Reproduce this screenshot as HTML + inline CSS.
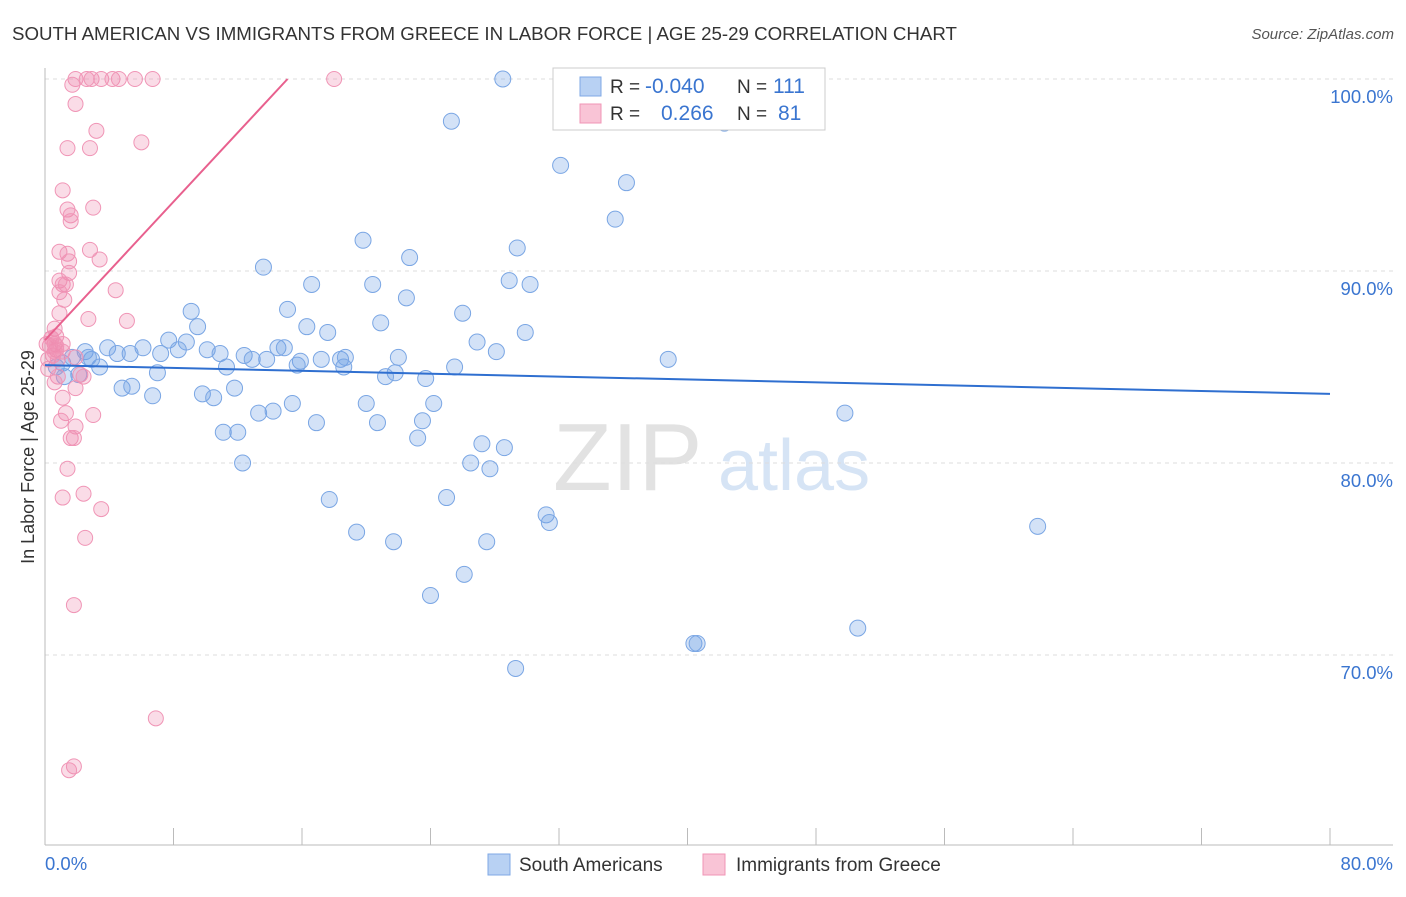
<!DOCTYPE html>
<html><head><meta charset="utf-8"><style>
body{margin:0;background:#fff;font-family:"Liberation Sans",sans-serif;}
svg text{font-family:"Liberation Sans",sans-serif;}
</style></head><body>
<svg id="chart" width="1406" height="892">
<text x="12" y="40" font-size="18.7" fill="#333">SOUTH AMERICAN VS IMMIGRANTS FROM GREECE IN LABOR FORCE | AGE 25-29 CORRELATION CHART</text>
<text x="1394" y="39" font-size="15" fill="#555" font-style="italic" text-anchor="end">Source: ZipAtlas.com</text>
<g>
<text x="553" y="490" font-size="96" fill="#e2e2e2" font-family="Liberation Serif">ZIP</text>
<text x="718" y="490" font-size="72" fill="#d6e4f5">atlas</text>
</g>
<g id="grid"></g><g id="axes"></g><g id="pts"></g><g id="lines"></g>
<text transform="translate(34,457) rotate(-90)" font-size="18" fill="#333" text-anchor="middle">In Labor Force | Age 25-29</text>
<g>
<rect x="553" y="68" width="272" height="62" fill="#fff" stroke="#ccc"/>
<rect x="580" y="77" width="21" height="19" fill="#b8d1f3" stroke="#7fa8e6"/>
<rect x="580" y="104" width="21" height="19" fill="#f9c4d6" stroke="#f095b6"/>
<text x="610" y="93" font-size="19" fill="#333">R = <tspan fill="#3a75d0" x="645" font-size="21">-0.040</tspan><tspan fill="#333" x="737">N = </tspan><tspan fill="#3a75d0" x="773" font-size="21">111</tspan></text>
<text x="610" y="120" font-size="19" fill="#333">R = <tspan fill="#3a75d0" x="661" font-size="21">0.266</tspan><tspan fill="#333" x="737">N = </tspan><tspan fill="#3a75d0" x="778" font-size="21">81</tspan></text>
</g>
<g>
<rect x="488" y="854" width="22" height="21" fill="#b8d1f3" stroke="#7fa8e6"/>
<text x="519" y="871" font-size="19" fill="#333">South Americans</text>
<rect x="703" y="854" width="22" height="21" fill="#f9c4d6" stroke="#f095b6"/>
<text x="736" y="871" font-size="19" fill="#333">Immigrants from Greece</text>
</g>
</svg>
<script>
const xTicks=[0,80];
const yTicks=[70,80,90,100];
const blueX=[28.5,32.6,38.3,41.2,25.3,42.3,32.1,36.2,35.5,19.8,29.4,22.7,13.6,16.6,20.4,28.9,30.2,22.5,15.1,26,9.1,9.5,16.3,17.6,20.9,26.9,29.9,28.1,38.8,7.7,8.8,6.1,3.9,2.5,5.3,7.2,4.5,10.1,10.9,8.3,12.4,14.5,14.9,12.9,13.8,11.3,15.9,17.2,18.4,18.7,18.6,15.7,22,21.8,21.2,23.7,25.5,7,3.4,2.9,2.7,1.7,1.1,0.7,1.2,2.1,4.8,5.4,6.7,9.8,10.5,11.8,15.4,13.3,14.2,16.9,20,20.7,24.2,23.5,23.2,11.1,12,12.3,27.2,28.6,26.5,27.7,17.7,25,49.8,31.2,31.4,19.4,21.7,27.5,61.8,26.1,24,50.6,40.4,40.6,29.3];
const blueY=[100,100,100,100,97.8,97.7,95.5,94.6,92.7,91.6,91.2,90.7,90.2,89.3,89.3,89.5,89.3,88.6,88,87.8,87.9,87.1,87.1,86.8,87.3,86.3,86.8,85.8,85.4,86.4,86.3,86,86,85.8,85.7,85.7,85.7,85.9,85.7,85.9,85.6,86,86,85.4,85.4,85,85.3,85.4,85.4,85.5,85,85.1,85.5,84.7,84.5,84.4,85,84.7,85,85.4,85.5,85.5,85.2,85,84.5,84.6,83.9,84,83.5,83.6,83.4,83.9,83.1,82.6,82.7,82.1,83.1,82.1,83.1,82.2,81.3,81.6,81.6,80,81,80.8,80,79.7,78.1,78.2,82.6,77.3,76.9,76.4,75.9,75.9,76.7,74.2,73.1,71.4,70.6,70.6,69.3];
const pinkX=[1.9,2.6,2.9,3.5,4.2,4.6,5.6,6.7,18,1.7,1.9,3.2,6,1.4,2.8,1.1,1.4,3,1.6,1.6,0.9,1.4,2.8,1.5,3.4,1.5,0.9,1.1,1.3,0.9,4.4,1.2,0.9,2.7,5.1,0.6,0.7,0.4,0.6,1.1,0.3,0.7,0.5,0.2,0.8,1.1,1.9,0.2,0.8,2.2,2.4,0.6,1.9,1.1,3,1.3,1,1.9,1.6,1.8,1.4,2.4,1.1,3.5,2.5,1.8,6.9,1.8,1.5,0.6,0.1,0.4,0.7];
const pinkY=[100,100,100,100,100,100,100,100,100,99.7,98.7,97.3,96.7,96.4,96.4,94.2,93.2,93.3,92.9,92.6,91,90.9,91.1,90.5,90.6,89.9,89.5,89.3,89.3,88.9,89,88.5,87.8,87.5,87.4,87,86.6,86.5,86.2,86.2,86.1,85.9,85.6,85.4,85.4,85.8,85.5,84.9,84.5,84.6,84.5,84.2,83.9,83.4,82.5,82.6,82.2,81.9,81.3,81.3,79.7,78.4,78.2,77.6,76.1,72.6,66.7,64.2,64,85.8,86.2,86.5,86.1];
const blueTrend=[85.1,83.6];
const pinkTrend=[86.4,100];
const X=v=>45+v/80*1285;
const Y=v=>79+(100-v)*19.2;
const NS="http://www.w3.org/2000/svg";
function mk(p,tag,a){const e=document.createElementNS(NS,tag);for(const k in a)e.setAttribute(k,a[k]);p.appendChild(e);return e;}
const grid=document.getElementById('grid'),axes=document.getElementById('axes'),pts=document.getElementById('pts'),lines=document.getElementById('lines');
yTicks.forEach(t=>{
 const l=mk(grid,'line',{x1:45,x2:1393,y1:Y(t),y2:Y(t),stroke:'#ddd','stroke-dasharray':'4,4'});
 
 
 const tx=mk(axes,'text',{x:1393,y:Y(t)+24,'font-size':18.5,fill:'#3a75d0','text-anchor':'end'});tx.textContent=t.toFixed(1)+'%';
 
 
});
const ax=mk(axes,'line',{x1:45,x2:45,y1:68,y2:845,stroke:'#bbb'});


const bx=mk(axes,'line',{x1:45,x2:1393,y1:845,y2:845,stroke:'#bbb'});


for(let i=1;i<=10;i++){const t=mk(axes,'line',{x1:X(i*8),x2:X(i*8),y1:828,y2:845,stroke:'#bbb'});
 
 }
xTicks.forEach((t,i)=>{const tx=mk(axes,'text',{x:i?1393:45,y:870,'font-size':18.5,fill:'#3a75d0','text-anchor':i?'end':'start'});tx.textContent=t.toFixed(1)+'%';
 
 });
blueX.forEach((v,i)=>{const c=mk(pts,'circle',{cx:X(v),cy:Y(blueY[i]),r:8,fill:'rgba(110,160,230,0.3)',stroke:'#7aa6e4','stroke-width':1});
 
 });
pinkX.forEach((v,i)=>{const c=mk(pts,'circle',{cx:X(v),cy:Y(pinkY[i]),r:7.5,fill:'rgba(240,140,175,0.3)',stroke:'#f095b6','stroke-width':1});
 
 });
const bl=mk(lines,'line',{x1:X(0),y1:Y(blueTrend[0]),x2:X(80),y2:Y(blueTrend[1]),stroke:'#2f6fd0','stroke-width':2});


const pl=mk(lines,'line',{x1:X(0),y1:Y(pinkTrend[0]),x2:X(15.1),y2:Y(pinkTrend[1]),stroke:'#e8608e','stroke-width':2});


</script>
</body></html>
